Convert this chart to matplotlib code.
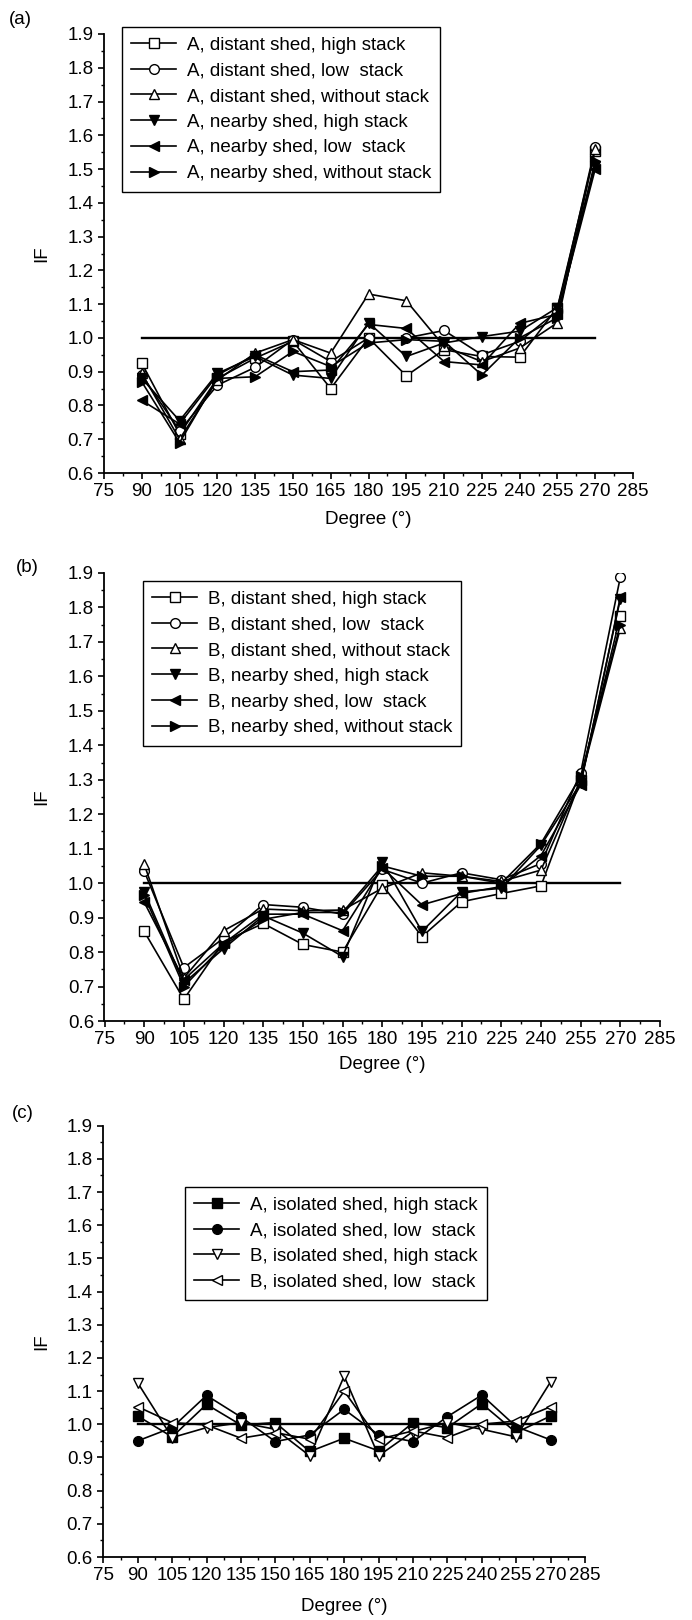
import matplotlib
matplotlib.use("Agg")
import matplotlib.pyplot as plt
from matplotlib.ticker import MultipleLocator, FormatStrFormatter

plt.rcParams['font.family'] = ['Liberation Sans', 'DejaVu Sans']

# ---------------- data ----------------
degrees = [90, 105, 120, 135, 150, 165, 180, 195, 210, 225, 240, 255, 270]
x_ticks = [75, 90, 105, 120, 135, 150, 165, 180, 195, 210, 225, 240, 255, 270, 285]
y_ticks = [0.6, 0.7, 0.8, 0.9, 1.0, 1.1, 1.2, 1.3, 1.4, 1.5, 1.6, 1.7, 1.8, 1.9]
ref_x = [90, 270]
ref_y = [1.0, 1.0]

# panel (a)
a_labels = ["A, distant shed, high stack", "A, distant shed, low  stack",
            "A, distant shed, without stack", "A, nearby shed, high stack",
            "A, nearby shed, low  stack", "A, nearby shed, without stack"]
a_distant_high = [0.925, 0.715, 0.880, 0.940, 0.990, 0.850, 1.000, 0.888, 0.965, 0.945, 0.943, 1.090, 1.555]
a_distant_low = [0.890, 0.725, 0.860, 0.913, 0.995, 0.930, 1.000, 1.000, 1.022, 0.950, 0.990, 1.080, 1.565]
a_distant_without = [0.895, 0.700, 0.875, 0.955, 0.995, 0.955, 1.130, 1.110, 0.975, 0.930, 0.970, 1.045, 1.560]
a_nearby_high = [0.880, 0.755, 0.895, 0.945, 0.890, 0.880, 1.045, 0.945, 0.985, 1.004, 1.020, 1.090, 1.510]
a_nearby_low = [0.815, 0.745, 0.890, 0.950, 0.900, 0.905, 1.040, 1.028, 0.930, 0.920, 1.043, 1.070, 1.500]
a_nearby_without = [0.870, 0.690, 0.880, 0.885, 0.960, 0.915, 0.985, 0.995, 0.990, 0.890, 1.000, 1.060, 1.525]

# panel (b)
b_labels = ["B, distant shed, high stack", "B, distant shed, low  stack",
            "B, distant shed, without stack", "B, nearby shed, high stack",
            "B, nearby shed, low  stack", "B, nearby shed, without stack"]
b_distant_high = [0.860, 0.663, 0.830, 0.883, 0.822, 0.800, 0.995, 0.845, 0.946, 0.970, 0.992, 1.300, 1.775]
b_distant_low = [1.035, 0.755, 0.840, 0.938, 0.930, 0.910, 1.040, 1.000, 1.030, 1.010, 1.057, 1.320, 1.888]
b_distant_without = [1.055, 0.725, 0.862, 0.925, 0.920, 0.922, 0.985, 1.030, 1.020, 1.005, 1.038, 1.300, 1.740]
b_nearby_high = [0.975, 0.710, 0.810, 0.905, 0.855, 0.787, 1.062, 0.860, 0.975, 0.985, 1.110, 1.290, 1.825]
b_nearby_low = [0.945, 0.720, 0.825, 0.910, 0.910, 0.862, 1.045, 0.937, 0.970, 0.990, 1.080, 1.285, 1.830]
b_nearby_without = [0.965, 0.700, 0.820, 0.895, 0.915, 0.915, 1.050, 1.020, 1.020, 1.000, 1.115, 1.310, 1.750]

# panel (c)
c_labels = ["A, isolated shed, high stack", "A, isolated shed, low  stack",
            "B, isolated shed, high stack", "B, isolated shed, low  stack"]
c_a_high = [1.025, 0.962, 1.060, 0.998, 1.005, 0.918, 0.958, 0.920, 1.005, 0.990, 1.062, 0.975, 1.025]
c_a_low = [0.950, 0.990, 1.087, 1.022, 0.948, 0.968, 1.045, 0.968, 0.948, 1.023, 1.088, 0.993, 0.953]
c_b_high = [1.125, 0.960, 0.990, 1.005, 0.985, 0.905, 1.145, 0.905, 0.978, 1.005, 0.985, 0.962, 1.128]
c_b_low = [1.053, 1.005, 0.998, 0.958, 0.975, 0.955, 1.100, 0.955, 0.980, 0.960, 1.000, 1.010, 1.053]

# ---------------- figure ----------------
W, H = 692, 1620
fig = plt.figure(figsize=(W / 100, H / 100), dpi=100)
FS = 13.5


def rect(l, r, t, b):
    return [l / W, 1 - b / H, (r - l) / W, (b - t) / H]


def style(ax, l, r, t, b, xlab_top, letter, letter_xy):
    ax.set_xlim(x_ticks[0], x_ticks[-1])
    ax.set_ylim(y_ticks[0], y_ticks[-1])
    ax.set_xticks(x_ticks)
    ax.set_yticks(y_ticks)
    ax.xaxis.set_minor_locator(MultipleLocator(7.5))
    ax.yaxis.set_minor_locator(MultipleLocator(0.05))
    ax.yaxis.set_major_formatter(FormatStrFormatter('%.1f'))
    for s in ['top', 'right']:
        ax.spines[s].set_visible(False)
    for s in ['left', 'bottom']:
        ax.spines[s].set_linewidth(1.3)
    ax.tick_params(which='major', length=4.5, width=1.2, direction='out',
                   labelsize=FS, pad=3, color='black')
    ax.tick_params(which='minor', length=2.5, width=1.0, direction='out')
    ax.set_xlabel("Degree (\u00b0)", fontsize=FS)
    ax.set_ylabel("IF", fontsize=FS)
    hpx = b - t
    wpx = r - l
    ax.xaxis.set_label_coords(0.5, -(xlab_top - b) / hpx)
    ax.yaxis.set_label_coords(-(l - 50) / wpx, 0.5)
    fig.text(letter_xy[0] / W, 1 - letter_xy[1] / H, letter, fontsize=FS,
             ha='center', va='center')
    ax.plot(ref_x, ref_y, color='black', lw=1.7, zorder=1)


def series(ax, y, marker, filled, label):
    ax.plot(degrees, y, color='black', lw=1.2, marker=marker, markersize=7,
            markerfacecolor='black' if filled else 'white',
            markeredgecolor='black', markeredgewidth=1.0, label=label, zorder=3)


def legend(ax, x, y):
    lg = ax.legend(loc='upper left', bbox_to_anchor=(x / W, 1 - y / H),
                   bbox_transform=fig.transFigure, borderaxespad=0,
                   fontsize=FS, numpoints=1, handlelength=2.4, handletextpad=0.55,
                   labelspacing=0.46, borderpad=0.5, fancybox=False,
                   framealpha=1, edgecolor='black')
    lg.get_frame().set_linewidth(1.0)


# panel (a)
la, ra, ta, ba = 104, 633, 34, 473
ax1 = fig.add_axes(rect(la, ra, ta, ba))
style(ax1, la, ra, ta, ba, 511, "(a)", (20, 19))
series(ax1, a_distant_high, 's', False, a_labels[0])
series(ax1, a_distant_low, 'o', False, a_labels[1])
series(ax1, a_distant_without, '^', False, a_labels[2])
series(ax1, a_nearby_high, 'v', True, a_labels[3])
series(ax1, a_nearby_low, '<', True, a_labels[4])
series(ax1, a_nearby_without, '>', True, a_labels[5])
legend(ax1, 122, 27)

# panel (b)
lb, rb, tb, bb = 104.5, 660, 573, 1021
ax2 = fig.add_axes(rect(lb, rb, tb, bb))
style(ax2, lb, rb, tb, bb, 1056, "(b)", (27, 567))
series(ax2, b_distant_high, 's', False, b_labels[0])
series(ax2, b_distant_low, 'o', False, b_labels[1])
series(ax2, b_distant_without, '^', False, b_labels[2])
series(ax2, b_nearby_high, 'v', True, b_labels[3])
series(ax2, b_nearby_low, '<', True, b_labels[4])
series(ax2, b_nearby_without, '>', True, b_labels[5])
legend(ax2, 143, 581)

# panel (c)
lc, rc, tc, bc = 103.3, 585, 1125.7, 1557
ax3 = fig.add_axes(rect(lc, rc, tc, bc))
style(ax3, lc, rc, tc, bc, 1598, "(c)", (23, 1113))
series(ax3, c_a_high, 's', True, c_labels[0])
series(ax3, c_a_low, 'o', True, c_labels[1])
series(ax3, c_b_high, 'v', False, c_labels[2])
series(ax3, c_b_low, '<', False, c_labels[3])
legend(ax3, 185, 1187)

fig.savefig("out.png", dpi=100)
